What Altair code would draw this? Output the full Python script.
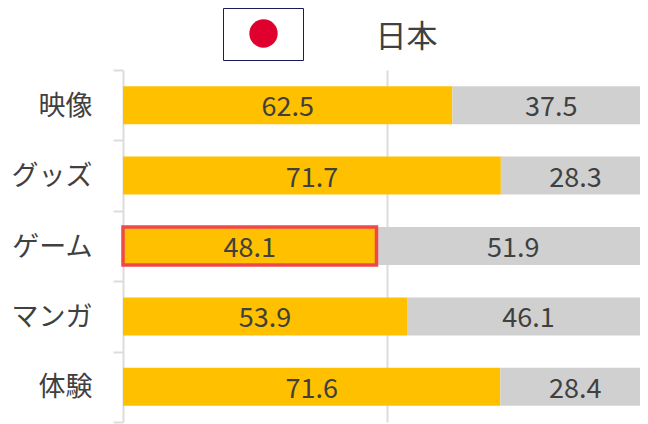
import altair as alt
import pandas as pd

categories = ["映像", "グッズ", "ゲーム", "マンガ", "体験"]
yes_values = [62.5, 71.7, 48.1, 53.9, 71.6]
no_values = [37.5, 28.3, 51.9, 46.1, 28.4]
highlighted = ["ゲーム"]
title_text = ["日本"]

FONT = "Noto Sans CJK JP"
INK = "#404040"

df = pd.DataFrame({"cat": categories, "yes": yes_values, "no": no_values})
df["total"] = df["yes"] + df["no"]
df["yes_mid"] = df["yes"] / 2
df["no_mid"] = df["yes"] + df["no"] / 2
df["yes_label"] = df["yes"].map("{:.1f}".format)
df["no_label"] = df["no"].map("{:.1f}".format)

x_scale = alt.Scale(domain=[0, 100], nice=False, zero=True, range=[0, 527])
y_scale = alt.Scale(domain=categories, paddingInner=0, paddingOuter=0)

x_axis = alt.Axis(values=[50], grid=True, gridColor="#dcdcdc", gridWidth=2, labels=False,
                  ticks=False, domain=False, title=None)
y_axis = alt.Axis(title=None, tickBand="extent", tickSize=10, tickColor="#dcdcdc", tickWidth=2,
                  domainColor="#dcdcdc", domainWidth=2, labelFont=FONT, labelFontSize=27,
                  labelColor=INK, labelPadding=21, labelOffset=1, labelFontWeight=400)

base = alt.Chart(df)
yes_bar = base.mark_bar(color="#FFC000", size=38).encode(
    x=alt.X("yes:Q", scale=x_scale, axis=x_axis),
    y=alt.Y("cat:N", scale=y_scale, axis=y_axis, sort=categories),
)
no_bar = base.mark_bar(color="#D0D0D0", size=38).encode(
    x=alt.X("yes:Q", scale=x_scale), x2="total:Q",
    y=alt.Y("cat:N", scale=y_scale, sort=categories),
)
outline = base.transform_filter(
    alt.FieldOneOfPredicate(field="cat", oneOf=highlighted)
).mark_bar(fill=None, stroke="#F04848", strokeWidth=3.5, size=38).encode(
    x=alt.X("yes:Q", scale=x_scale),
    y=alt.Y("cat:N", scale=y_scale, sort=categories),
)
yes_text = base.mark_text(font=FONT, fontSize=27, color=INK, fontWeight=400, dy=3).encode(
    x=alt.X("yes_mid:Q", scale=x_scale),
    y=alt.Y("cat:N", scale=y_scale, sort=categories),
    text="yes_label:N",
)
no_text = base.mark_text(font=FONT, fontSize=27, color=INK, fontWeight=400, dy=3).encode(
    x=alt.X("no_mid:Q", scale=x_scale),
    y=alt.Y("cat:N", scale=y_scale, sort=categories),
    text="no_label:N",
)

deco = alt.Chart(pd.DataFrame({"t": title_text}))
flag_box = deco.mark_rect(fill="white", stroke="#1a1a5e", strokeWidth=1).encode(
    x=alt.value(100.5), x2=alt.value(180.5), y=alt.value(-61.5), y2=alt.value(-9.5))
flag_sun = deco.mark_point(filled=True, color="#E0002D", shape="circle", size=804, opacity=1).encode(
    x=alt.value(140.5), y=alt.value(-36.5))
title = deco.mark_text(font=FONT, fontSize=31, color=INK, fontWeight=400).encode(
    x=alt.value(283.5), y=alt.value(-32), text="t:N")

chart = alt.layer(yes_bar, no_bar, outline, yes_text, no_text, flag_box, flag_sun, title).properties(
    width=517, height=352,
    autosize=alt.AutoSizeParams(type="none"),
    padding={"left": 115, "top": 62, "right": 0, "bottom": 2},
    background="white",
).configure_view(stroke=None)

chart.save("out.html", embed_options={"renderer": "svg", "actions": False})
